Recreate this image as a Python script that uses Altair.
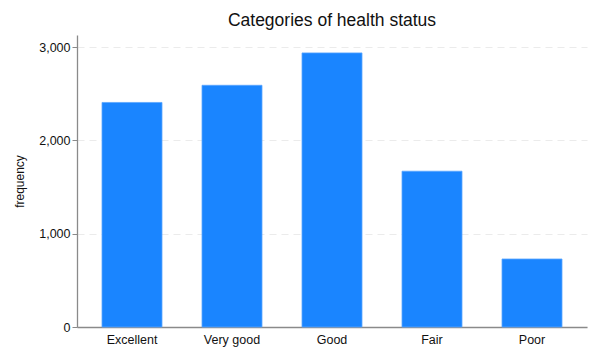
import altair as alt
import pandas as pd

categories = ["Excellent", "Very good", "Good", "Fair", "Poor"]
frequency = [2407, 2591, 2938, 1670, 729]

df = pd.DataFrame({"status": categories, "frequency": frequency})

FONT = "Liberation Sans"

chart = alt.Chart(df).mark_bar(
    color="#1a85ff", stroke="#5aa6ff", strokeWidth=0.8
).encode(
    x=alt.X("status:N", sort=categories,
            scale=alt.Scale(paddingInner=0.4, paddingOuter=0.25),
            axis=alt.Axis(title=None, labelAngle=0, ticks=False, domainColor="#8a8a8a",
                          domainWidth=1.3, labelFontSize=12.5, labelColor="#111",
                          labelPadding=6, labelFont=FONT, grid=False)),
    y=alt.Y("frequency:Q", scale=alt.Scale(domain=[0, 3130], nice=False),
            axis=alt.Axis(title="frequency", values=[0, 1000, 2000, 3000], format=",.0f",
                          labelFontSize=12.5, labelColor="#111", labelFont=FONT,
                          titleFont=FONT, titleFontSize=12, titleFontWeight="normal",
                          titleColor="#111", titlePadding=12,
                          tickSize=5, tickColor="#8a8a8a", domainColor="#8a8a8a",
                          domainWidth=1.3, gridColor="#ebebeb", gridDash=[7, 5],
                          gridWidth=1)),
).properties(
    width=510,
    height=292,
    title=alt.TitleParams("Categories of health status", font=FONT, fontSize=17.5,
                          fontWeight="normal", color="#111", anchor="middle", offset=6),
    autosize=alt.AutoSizeParams(type="none"),
    padding={"left": 69, "top": 27, "right": 5, "bottom": 25},
).configure_view(stroke=None)

chart.save("out.html", embed_options={"renderer": "svg", "actions": False})
